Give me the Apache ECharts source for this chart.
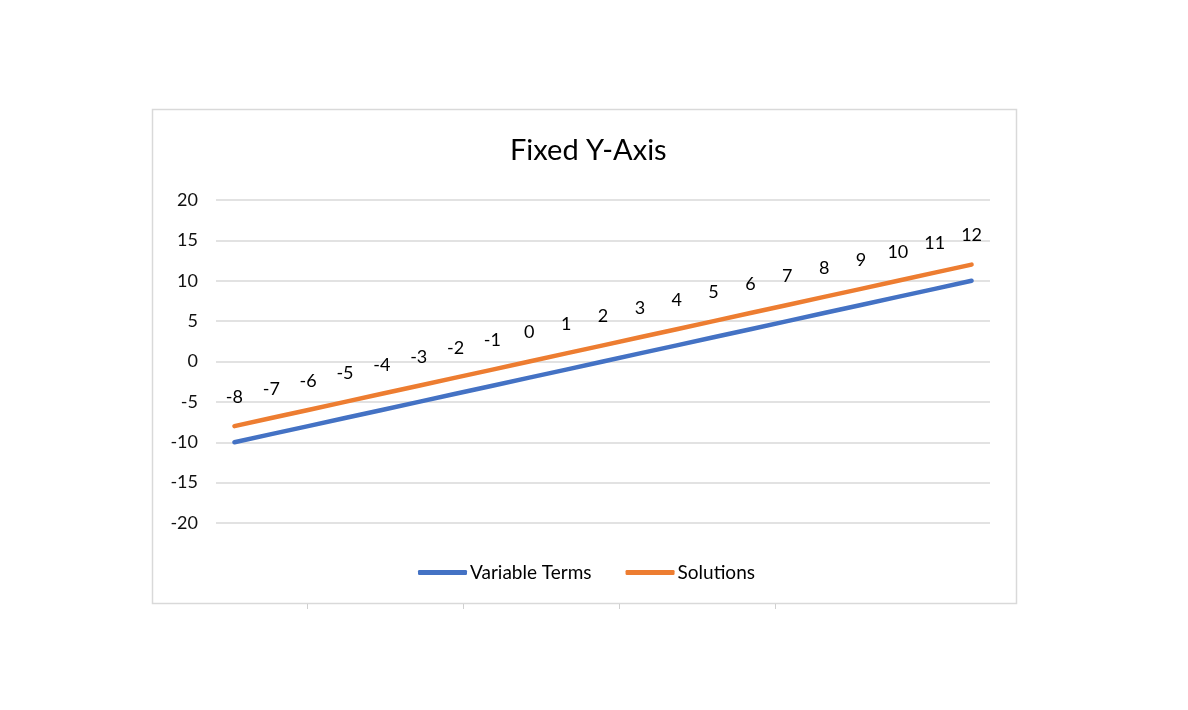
<!DOCTYPE html>
<html>
<head>
<meta charset="utf-8">
<script src="https://cdn.jsdelivr.net/npm/echarts@6/dist/echarts.min.js"></script>
<style>
html, body { margin: 0; padding: 0; background: #fff; }
#chart { width: 1188px; height: 710px; }
</style>
</head>
<body>
<div id="chart"></div>
<script>
// x categories (not shown on the chart)
var categories = ['1','2','3','4','5','6','7','8','9','10','11','12','13','14','15','16','17','18','19','20','21'];
// 变量项
var variableTerms = [-10, -9, -8, -7, -6, -5, -4, -3, -2, -1, 0, 1, 2, 3, 4, 5, 6, 7, 8, 9, 10];
// 解
var solutions = [-8, -7, -6, -5, -4, -3, -2, -1, 0, 1, 2, 3, 4, 5, 6, 7, 8, 9, 10, 11, 12];
var yTicks = [-20, 20, 5]; // min, max, interval

var chart = echarts.init(document.getElementById('chart'));

var option = {
    animation: false,
    textStyle: { fontFamily: 'Lato, "Open Sans", sans-serif' },
    title: {
        text: 'Fixed Y-Axis',
        left: 505,
        top: 131,
        textStyle: { fontSize: 29, fontWeight: 'normal', color: '#000', fontFamily: 'Lato' }
    },
    graphic: [
        {
            type: 'rect',
            shape: { x: 152.5, y: 109.5, width: 864, height: 494 },
            style: { fill: 'none', stroke: '#d9d9d9', lineWidth: 1.5 },
            silent: true
        },
        // small sheet gridline stubs under the chart box
        { type: 'line', shape: { x1: 307.5, y1: 604, x2: 307.5, y2: 609 }, style: { stroke: '#d0d0d0', lineWidth: 1 } },
        { type: 'line', shape: { x1: 463.5, y1: 604, x2: 463.5, y2: 609 }, style: { stroke: '#d0d0d0', lineWidth: 1 } },
        { type: 'line', shape: { x1: 619.5, y1: 604, x2: 619.5, y2: 609 }, style: { stroke: '#d0d0d0', lineWidth: 1 } },
        { type: 'line', shape: { x1: 775.5, y1: 604, x2: 775.5, y2: 609 }, style: { stroke: '#d0d0d0', lineWidth: 1 } }
    ],
    legend: {
        top: 558,
        left: 413,
        icon: 'roundRect',
        itemWidth: 49,
        itemHeight: 5,
        itemGap: 34,
        textStyle: { fontSize: 19, color: '#000', fontFamily: 'Lato', padding: [0, 0, 0, -2] },
        data: [
            { name: 'Variable Terms', itemStyle: { color: '#4472C4' } },
            { name: 'Solutions', itemStyle: { color: '#ED7D31' } }
        ]
    },
    grid: {
        left: 216,
        right: 198,
        top: 200,
        bottom: 187
    },
    xAxis: {
        type: 'category',
        data: categories,
        boundaryGap: true,
        show: false
    },
    yAxis: {
        type: 'value',
        min: yTicks[0],
        max: yTicks[1],
        interval: yTicks[2],
        axisLine: { show: false },
        axisTick: { show: false },
        axisLabel: { fontSize: 18, color: '#111', margin: 18, fontFamily: 'Lato' },
        splitLine: { lineStyle: { color: '#d9d9d9', width: 1.5 } }
    },
    series: [
        {
            name: 'Variable Terms',
            type: 'line',
            data: variableTerms,
            symbol: 'none',
            lineStyle: { color: '#4472C4', width: 4.5, cap: 'round' },
            itemStyle: { color: '#4472C4' }
        },
        {
            name: 'Solutions',
            type: 'line',
            data: solutions,
            symbol: 'circle',
            symbolSize: 0,
            showSymbol: true,
            lineStyle: { color: '#ED7D31', width: 4.5, cap: 'round' },
            itemStyle: { color: '#ED7D31' },
            label: {
                show: true,
                position: 'top',
                distance: 20,
                fontSize: 18,
                color: '#000',
                fontFamily: 'Lato'
            }
        }
    ]
};

chart.setOption(option);
</script>
</body>
</html>
